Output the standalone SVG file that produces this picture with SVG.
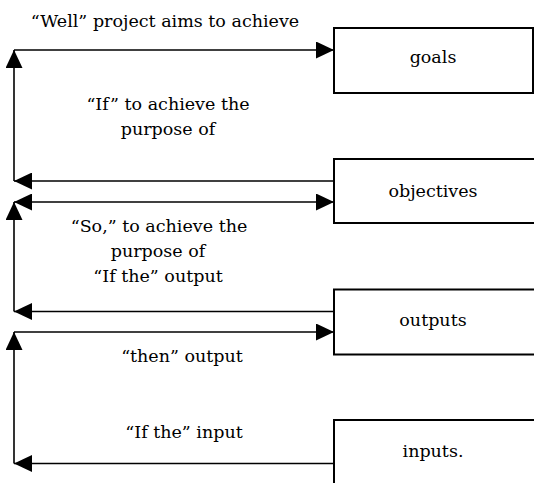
<svg xmlns="http://www.w3.org/2000/svg" width="534" height="483" viewBox="0 0 534 483">
  <style>
    .box { fill: #fff; stroke: #000; stroke-width: 2; }
    .lbl { font-family: "DejaVu Serif", serif; font-size: 17.5px; fill: #000; text-anchor: middle; }
    .wire { fill: none; stroke: #000; stroke-width: 1.6; }
  </style>
  <defs>
    <marker id="head" viewBox="0 0 18 17" refX="18" refY="8.5" markerWidth="18" markerHeight="17" markerUnits="userSpaceOnUse" orient="auto-start-reverse">
      <path d="M0,0 L18,8.5 L0,17 Z" fill="#000"/>
    </marker>
  </defs>
  <rect width="534" height="483" fill="#fff"/>

  <!-- connectors -->
  <g id="connectors">
    <!-- objectives -> goals loop -->
    <line class="wire" x1="334" y1="181" x2="14" y2="181" marker-end="url(#head)"/>
    <line class="wire" x1="14" y1="181" x2="14" y2="50" marker-end="url(#head)"/>
    <line class="wire" x1="14" y1="50" x2="334" y2="50" marker-end="url(#head)"/>
    <!-- outputs -> objectives loop -->
    <line class="wire" x1="334" y1="311.5" x2="14" y2="311.5" marker-end="url(#head)"/>
    <line class="wire" x1="14" y1="311.5" x2="14" y2="202" marker-end="url(#head)"/>
    <line class="wire" x1="14" y1="202" x2="334" y2="202" marker-start="url(#head)" marker-end="url(#head)"/>
    <!-- inputs -> outputs loop -->
    <line class="wire" x1="334" y1="463.5" x2="14" y2="463.5" marker-end="url(#head)"/>
    <line class="wire" x1="14" y1="463.5" x2="14" y2="332" marker-end="url(#head)"/>
    <line class="wire" x1="14" y1="332" x2="334" y2="332" marker-end="url(#head)"/>
  </g>

  <!-- boxes -->
  <g id="goals">
    <rect class="box" x="334" y="28" width="199" height="65"/>
    <text class="lbl" x="433" y="63">goals</text>
  </g>
  <g id="objectives">
    <rect class="box" x="334" y="159" width="210" height="64"/>
    <text class="lbl" x="433" y="197">objectives</text>
  </g>
  <g id="outputs">
    <rect class="box" x="334" y="289.5" width="210" height="65"/>
    <text class="lbl" x="433" y="326">outputs</text>
  </g>
  <g id="inputs">
    <rect class="box" x="334" y="420" width="210" height="80"/>
    <text class="lbl" x="433" y="457">inputs.</text>
  </g>

  <!-- loop labels -->
  <g id="labels">
    <text class="lbl" x="165" y="27">“Well” project aims to achieve</text>
    <text class="lbl" x="168" y="110">“If” to achieve the</text>
    <text class="lbl" x="168" y="135">purpose of</text>
    <text class="lbl" x="159" y="232">“So,” to achieve the</text>
    <text class="lbl" x="158" y="257">purpose of</text>
    <text class="lbl" x="158" y="282">“If the” output</text>
    <text class="lbl" x="182" y="362">“then” output</text>
    <text class="lbl" x="184" y="438">“If the” input</text>
  </g>
</svg>
